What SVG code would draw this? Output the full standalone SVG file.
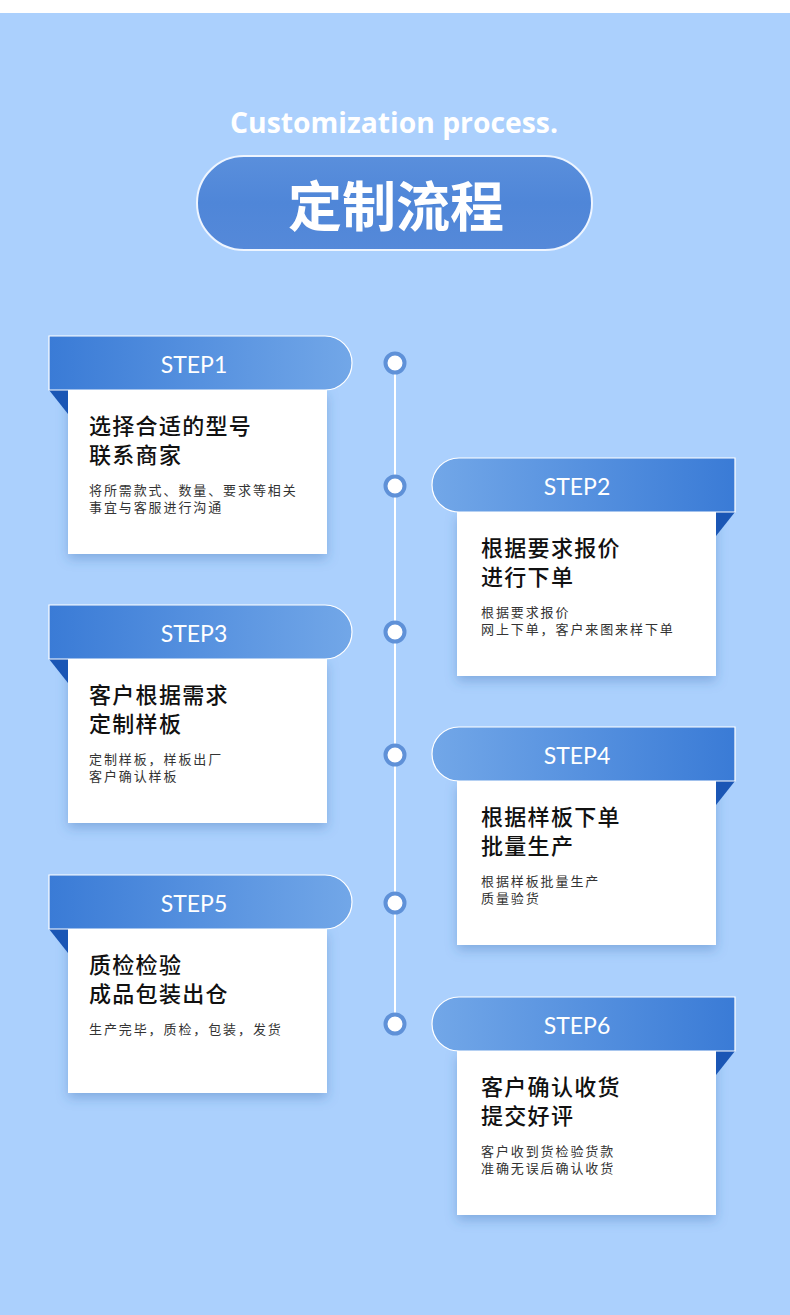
<svg xmlns="http://www.w3.org/2000/svg" width="790" height="1315" viewBox="0 0 790 1315">
<defs>
<linearGradient id="gL" x1="0" y1="0" x2="1" y2="0"><stop offset="0" stop-color="#3a7bd6"/><stop offset="1" stop-color="#72a7e8"/></linearGradient>
<linearGradient id="gR" x1="0" y1="0" x2="1" y2="0"><stop offset="0" stop-color="#72a7e8"/><stop offset="1" stop-color="#3a7bd6"/></linearGradient>
<linearGradient id="gPill" x1="0" y1="0" x2="0" y2="1"><stop offset="0" stop-color="#5a8fdc"/><stop offset="0.5" stop-color="#4f86d8"/><stop offset="1" stop-color="#5589d9"/></linearGradient>
<filter id="sh" x="-20%" y="-20%" width="140%" height="150%"><feDropShadow dx="0" dy="5" stdDeviation="6" flood-color="#3565a8" flood-opacity="0.35"/></filter>
<style>
.step{font-family:Lato,"Open Sans",sans-serif;font-size:23px;fill:#fff;text-anchor:middle}
.title{font-family:"Noto Sans CJK SC",sans-serif;font-size:22px;font-weight:500;letter-spacing:1.3px;fill:#111}
.desc{font-family:"Noto Sans CJK SC",sans-serif;font-size:13px;letter-spacing:1.9px;fill:#333}
.card{fill:#fff;filter:url(#sh)}
.fold{fill:#1a56b5}
.bL{fill:url(#gL);stroke:#fff;stroke-width:1.2}
.bR{fill:url(#gR);stroke:#fff;stroke-width:1.2}
.dot{fill:#fff;stroke:#5f91d8;stroke-width:4}
</style>
</defs>
<rect x="0" y="0" width="790" height="1315" fill="#abd0fd"/>
<rect x="0" y="0" width="790" height="13" fill="#fff"/>
<g id="header">
<text x="394" y="133" text-anchor="middle" font-family="'Open Sans',sans-serif" font-weight="700" font-size="28.3" fill="#fff">Customization process.</text>
<rect x="197" y="156" width="395" height="94" rx="47" fill="url(#gPill)" stroke="#eef5ff" stroke-width="2"/>
<text x="396" y="227" text-anchor="middle" font-family="'Noto Sans CJK SC',sans-serif" font-weight="700" font-size="54" fill="#fff">定制流程</text>
</g>
<g id="connectors">
<line x1="395" y1="363" x2="395" y2="1024" stroke="#fff" stroke-width="2"/>
<circle class="dot" cx="395" cy="363" r="9.5"/>
<circle class="dot" cx="395" cy="486" r="9.5"/>
<circle class="dot" cx="395" cy="632" r="9.5"/>
<circle class="dot" cx="395" cy="755" r="9.5"/>
<circle class="dot" cx="395" cy="903" r="9.5"/>
<circle class="dot" cx="395" cy="1024" r="9.5"/>
</g>
<g id="step1" transform="translate(0,336)">
<rect class="card" x="68" y="54" width="259" height="164"/>
<polygon class="fold" points="49,54 68,54 68,78"/>
<path class="bL" d="M49,0 H325 A27,27 0 0 1 325,54 H49 Z"/>
<text class="step" x="194" y="37">STEP1</text>
<text class="title" x="89" y="98">选择合适的型号</text>
<text class="title" x="89" y="127">联系商家</text>
<text class="desc" x="89" y="159">将所需款式、数量、要求等相关</text>
<text class="desc" x="89" y="176">事宜与客服进行沟通</text>
</g>
<g id="step2" transform="translate(0,458)">
<rect class="card" x="457" y="54" width="259" height="164"/>
<polygon class="fold" points="735,54 716,54 716,78"/>
<path class="bR" d="M735,0 V54 H459 A27,27 0 0 1 459,0 Z"/>
<text class="step" x="577" y="37">STEP2</text>
<text class="title" x="481" y="98">根据要求报价</text>
<text class="title" x="481" y="127">进行下单</text>
<text class="desc" x="481" y="159">根据要求报价</text>
<text class="desc" x="481" y="176">网上下单，客户来图来样下单</text>
</g>
<g id="step3" transform="translate(0,605)">
<rect class="card" x="68" y="54" width="259" height="164"/>
<polygon class="fold" points="49,54 68,54 68,78"/>
<path class="bL" d="M49,0 H325 A27,27 0 0 1 325,54 H49 Z"/>
<text class="step" x="194" y="37">STEP3</text>
<text class="title" x="89" y="98">客户根据需求</text>
<text class="title" x="89" y="127">定制样板</text>
<text class="desc" x="89" y="159">定制样板，样板出厂</text>
<text class="desc" x="89" y="176">客户确认样板</text>
</g>
<g id="step4" transform="translate(0,727)">
<rect class="card" x="457" y="54" width="259" height="164"/>
<polygon class="fold" points="735,54 716,54 716,78"/>
<path class="bR" d="M735,0 V54 H459 A27,27 0 0 1 459,0 Z"/>
<text class="step" x="577" y="37">STEP4</text>
<text class="title" x="481" y="98">根据样板下单</text>
<text class="title" x="481" y="127">批量生产</text>
<text class="desc" x="481" y="159">根据样板批量生产</text>
<text class="desc" x="481" y="176">质量验货</text>
</g>
<g id="step5" transform="translate(0,875)">
<rect class="card" x="68" y="54" width="259" height="164"/>
<polygon class="fold" points="49,54 68,54 68,78"/>
<path class="bL" d="M49,0 H325 A27,27 0 0 1 325,54 H49 Z"/>
<text class="step" x="194" y="37">STEP5</text>
<text class="title" x="89" y="98">质检检验</text>
<text class="title" x="89" y="127">成品包装出仓</text>
<text class="desc" x="89" y="159">生产完毕，质检，包装，发货</text>
</g>
<g id="step6" transform="translate(0,997)">
<rect class="card" x="457" y="54" width="259" height="164"/>
<polygon class="fold" points="735,54 716,54 716,78"/>
<path class="bR" d="M735,0 V54 H459 A27,27 0 0 1 459,0 Z"/>
<text class="step" x="577" y="37">STEP6</text>
<text class="title" x="481" y="98">客户确认收货</text>
<text class="title" x="481" y="127">提交好评</text>
<text class="desc" x="481" y="159">客户收到货检验货款</text>
<text class="desc" x="481" y="176">准确无误后确认收货</text>
</g>
</svg>
